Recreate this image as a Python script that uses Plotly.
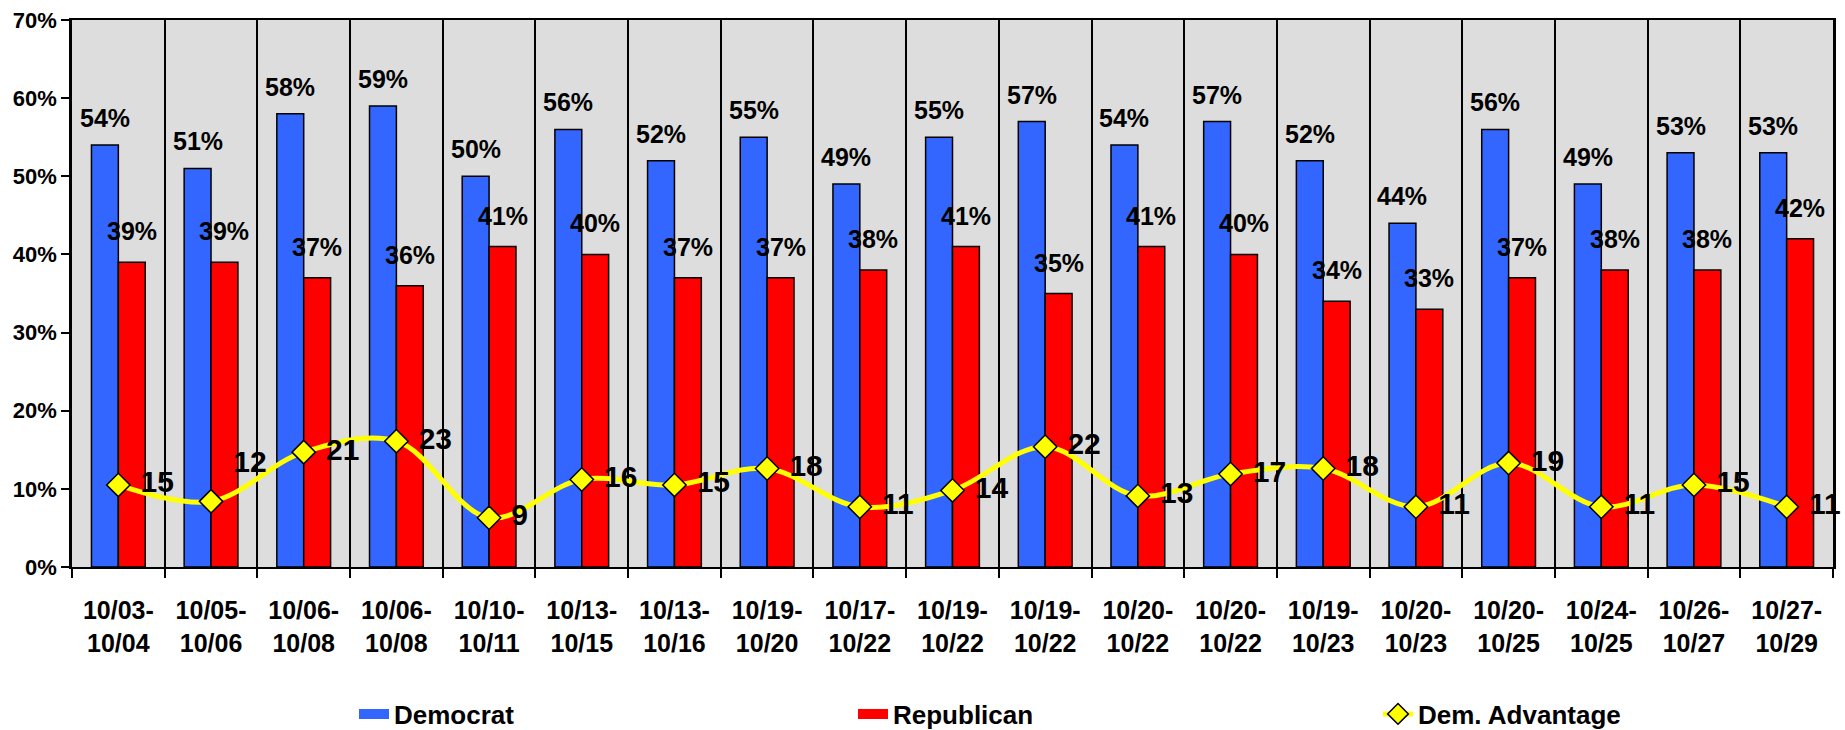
import plotly.graph_objects as go

categories = ["10/03-<br>10/04", "10/05-<br>10/06", "10/06-<br>10/08", "10/06-<br>10/08",
              "10/10-<br>10/11", "10/13-<br>10/15", "10/13-<br>10/16", "10/19-<br>10/20",
              "10/17-<br>10/22", "10/19-<br>10/22", "10/19-<br>10/22", "10/20-<br>10/22",
              "10/20-<br>10/22", "10/19-<br>10/23", "10/20-<br>10/23", "10/20-<br>10/25",
              "10/24-<br>10/25", "10/26-<br>10/27", "10/27-<br>10/29"]
democrat = [54, 51, 58, 59, 50, 56, 52, 55, 49, 55, 57, 54, 57, 52, 44, 56, 49, 53, 53]
republican = [39, 39, 37, 36, 41, 40, 37, 37, 38, 41, 35, 41, 40, 34, 33, 37, 38, 38, 42]
advantage = [15, 12, 21, 23, 9, 16, 15, 18, 11, 14, 22, 13, 17, 18, 11, 19, 11, 15, 11]

FONT = "Liberation Sans, Arial, sans-serif"
n = len(categories)
xs = list(range(n))
BLUE = "#3366FF"
RED = "#FF0000"
YELLOW = "#FFFF00"

fig = go.Figure()
fig.add_trace(go.Bar(x=xs, y=democrat, name="Democrat", legendgroup="dem", showlegend=False,
                     marker=dict(color=BLUE, line=dict(color="black", width=1.5))))
fig.add_trace(go.Bar(x=xs, y=republican, name="Republican", legendgroup="rep", showlegend=False,
                     marker=dict(color=RED, line=dict(color="black", width=1.5))))
# legend entries drawn as wide colour bands
fig.add_trace(go.Scatter(x=[None], y=[None], mode="lines", name="Democrat", legendgroup="dem",
                         line=dict(color=BLUE, width=15), legend="legend", showlegend=True))
fig.add_trace(go.Scatter(x=[None], y=[None], mode="lines", name="Republican", legendgroup="rep",
                         line=dict(color=RED, width=15), legend="legend2", showlegend=True))

fig.add_trace(go.Scatter(x=xs, y=advantage, name="Dem. Advantage", yaxis="y2",
                         mode="lines+markers", legendgroup="adv",
                         line=dict(color=YELLOW, width=5, shape="spline", smoothing=1.0),
                         marker=dict(symbol="diamond", size=18, color=YELLOW,
                                     line=dict(color="black", width=1.5)),
                         legend="legend3", showlegend=True))

positions = ["middle right"] * n
positions[1] = "top right"
fig.add_trace(go.Scatter(x=xs, y=advantage, yaxis="y2", mode="markers+text", showlegend=False,
                         legendgroup="adv", text=[str(v) for v in advantage],
                         textposition=positions, hoverinfo="skip", cliponaxis=False,
                         textfont=dict(family=FONT, size=30, color="black", weight="bold"),
                         marker=dict(size=34, color="rgba(0,0,0,0)")))

bar_off = 0.145
for i in xs:
    fig.add_annotation(x=i - bar_off, y=democrat[i], text=f"{democrat[i]}%", showarrow=False,
                       yanchor="middle", yshift=27, xref="x", yref="y",
                       font=dict(family=FONT, size=25, color="black", weight="bold"))
    fig.add_annotation(x=i + bar_off, y=republican[i], text=f"{republican[i]}%", showarrow=False,
                       yanchor="middle", yshift=31, xref="x", yref="y",
                       font=dict(family=FONT, size=25, color="black", weight="bold"))

legend_common = dict(orientation="h", xref="container", yref="container",
                     yanchor="middle", y=16 / 730, xanchor="left",
                     bgcolor="rgba(0,0,0,0)",
                     font=dict(family=FONT, size=26, color="black", weight="bold"))

fig.update_layout(
    width=1845, height=730,
    margin=dict(l=72, r=12, t=20, b=163, autoexpand=False),
    paper_bgcolor="white", plot_bgcolor="#DDDDDD",
    showlegend=True,
    barmode="group", bargap=0.42, bargroupgap=0,
    font=dict(family=FONT, color="black"),
    legend=dict(x=354 / 1845, **legend_common),
    legend2=dict(x=853 / 1845, **legend_common),
    legend3=dict(x=1378 / 1845, **legend_common),
    xaxis=dict(range=[-0.5, n - 0.5], tickvals=xs, ticktext=categories, ticks="",
               showgrid=False, zeroline=False, automargin=False, ticklabelstandoff=20,
               showline=True, linecolor="black", linewidth=2, mirror=True,
               tickfont=dict(family=FONT, size=25, color="black", weight="bold"),
               minor=dict(tickvals=[i + 0.5 for i in range(-1, n)], ticks="outside", ticklen=9,
                          tickcolor="black", tickwidth=1.5, showgrid=True, gridcolor="black",
                          gridwidth=1.5)),
    yaxis=dict(range=[0, 70], dtick=10, ticksuffix="%", ticks="outside", ticklen=8, tickwidth=2,
               tickcolor="black", showgrid=False, zeroline=False, automargin=False,
               showline=True, linecolor="black", linewidth=2.5, mirror=True,
               tickfont=dict(family=FONT, size=22, color="black", weight="bold")),
    yaxis2=dict(range=[0, 100], overlaying="y", side="right", visible=False, showgrid=False),
)

fig.write_html("out.html", config={"displayModeBar": False},
               post_script="document.body.style.margin='0';document.body.style.overflow='hidden';")
